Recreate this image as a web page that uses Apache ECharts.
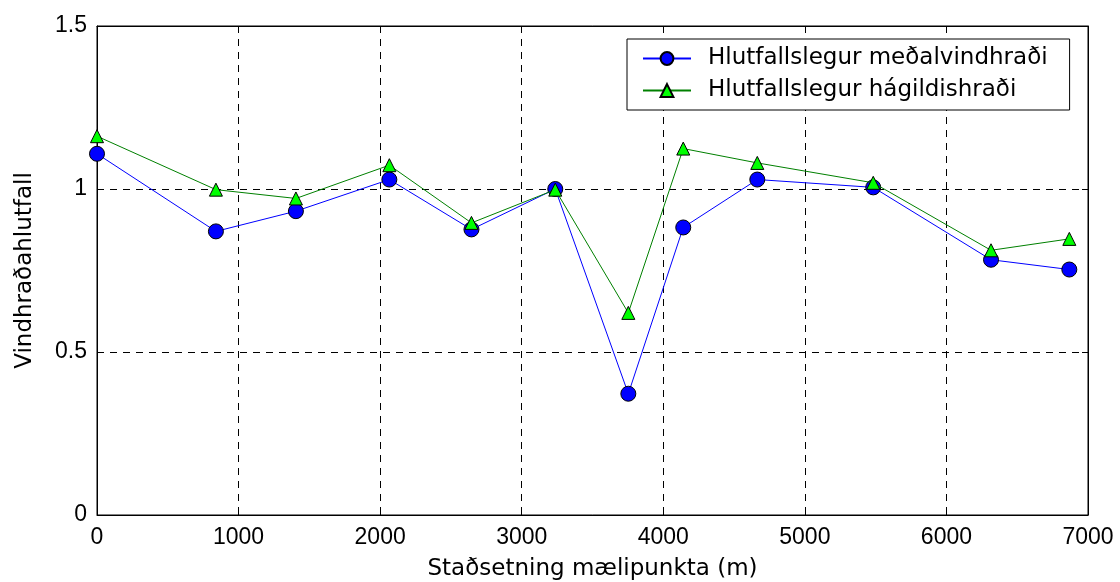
<!DOCTYPE html>
<html>
<head>
<meta charset="utf-8">
<script src="https://cdn.jsdelivr.net/npm/echarts@6/dist/echarts.min.js"></script>
<style>
html,body{margin:0;padding:0;background:#fff;}
#chart{width:1120px;height:582px;}
</style>
</head>
<body>
<div id="chart"></div>
<script>
const positions = [0, 840, 1405, 2065, 2645, 3237, 3753, 4141, 4664, 5483, 6315, 6868];
const meanRatio = [1.108, 0.870, 0.932, 1.029, 0.876, 1.000, 0.372, 0.882, 1.029, 1.005, 0.783, 0.753];
const gustRatio = [1.162, 0.998, 0.971, 1.073, 0.896, 0.998, 0.620, 1.124, 1.080, 1.019, 0.812, 0.847];
const seriesNames = ['Hlutfallslegur meðalvindhraði', 'Hlutfallslegur hágildishraði'];
const xName = 'Staðsetning mælipunkta (m)';
const yName = 'Vindhraðahlutfall';

const numFont = 'Liberation Sans, Arial, sans-serif';
const textFont = 'DejaVu Sans, sans-serif';
const chart = echarts.init(document.getElementById('chart'));
const pairs = (xs, ys) => xs.map((x, i) => [x, ys[i]]);
const gridLine = {show: true, lineStyle: {color: '#000', width: 1, type: [7, 6]}};
const tick = {show: true, inside: true, length: 6, lineStyle: {color: '#000'}};
const line = {show: true, onZero: false, lineStyle: {color: '#000', width: 1}};

chart.setOption({
  animation: false,
  backgroundColor: '#fff',
  grid: {left: 97, right: 32, top: 26, bottom: 67, containLabel: false, outerBoundsMode: 'none',
         show: true, borderColor: '#000', borderWidth: 1, backgroundColor: 'transparent'},
  legend: {
    orient: 'vertical', left: 627, top: 39,
    padding: [8, 22, 8, 15], itemGap: 9, itemWidth: 48, itemHeight: 16,
    backgroundColor: '#fff', borderColor: '#000', borderWidth: 1,
    textStyle: {fontSize: 23, color: '#000', fontFamily: textFont, padding: [0, 0, 0, 12]},
    data: seriesNames
  },
  xAxis: [{
    type: 'value', min: 0, max: 7000, interval: 1000,
    name: xName, nameLocation: 'middle', nameGap: 43,
    nameTextStyle: {fontSize: 23, color: '#000', fontFamily: textFont},
    axisLine: line, axisTick: tick,
    axisLabel: {fontSize: 23, color: '#000', margin: 11, fontFamily: numFont, formatter: v => String(v)},
    splitLine: gridLine
  }, {
    type: 'value', min: 0, max: 7000, interval: 1000, position: 'top',
    axisLine: line, axisTick: tick, axisLabel: {show: false}, splitLine: {show: false}
  }],
  yAxis: [{
    type: 'value', min: 0, max: 1.5, interval: 0.5,
    name: yName, nameLocation: 'middle', nameGap: 60, nameRotate: 90,
    nameTextStyle: {fontSize: 23, color: '#000', fontFamily: textFont},
    axisLine: line, axisTick: tick,
    axisLabel: {fontSize: 23, color: '#000', margin: 10, fontFamily: numFont},
    splitLine: gridLine
  }, {
    type: 'value', min: 0, max: 1.5, interval: 0.5, position: 'right',
    axisLine: line, axisTick: tick, axisLabel: {show: false}, splitLine: {show: false}
  }],
  series: [
    {
      name: seriesNames[0], type: 'line', data: pairs(positions, meanRatio),
      symbol: 'circle', symbolSize: 15, z: 3,
      lineStyle: {color: '#0000ff', width: 1},
      itemStyle: {color: '#0000ff', borderColor: '#000', borderWidth: 1}
    },
    {
      name: seriesNames[1], type: 'line', data: pairs(positions, gustRatio),
      symbol: 'triangle', symbolSize: 13, z: 4,
      lineStyle: {color: '#008000', width: 1},
      itemStyle: {color: '#00ff00', borderColor: '#000', borderWidth: 1}
    }
  ]
});
</script>
</body>
</html>
